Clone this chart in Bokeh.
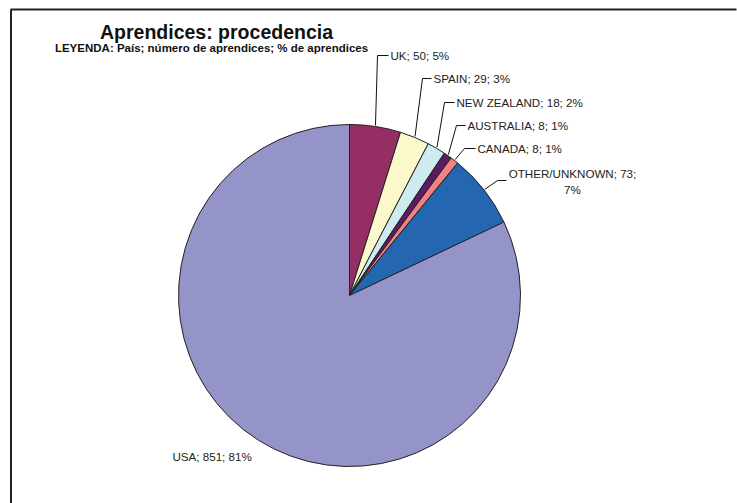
import math
from bokeh.plotting import figure
from bokeh.models import Range1d
from bokeh.core.properties import value
from bokeh.embed import file_html
from bokeh.resources import INLINE

# ---- data ----
countries = ["UK", "SPAIN", "NEW ZEALAND", "AUSTRALIA", "CANADA", "OTHER/UNKNOWN", "USA"]
counts = [50, 29, 18, 8, 8, 73, 851]
pct_labels = ["5%", "3%", "2%", "1%", "1%", "7%", "81%"]
colors = ["#952F63", "#FBF9CB", "#CDEBF0", "#5C1A5F", "#F28282", "#2566B1", "#9594C8"]

title_text = "Aprendices: procedencia"
subtitle_text = "LEYENDA: País; número de aprendices; % de aprendices"

# ---- layout (screen pixel positions of label anchors) ----
W, H = 737, 503
def fx(px):
    return px
def fy(py):
    return H - py

CX, CY, R = fx(349), fy(295), 171
label_layout = {
    "UK": dict(elbow=(377, 55), text=(390, 55)),
    "SPAIN": dict(elbow=(422, 78), text=(433, 78)),
    "NEW ZEALAND": dict(elbow=(444, 102), text=(456, 102)),
    "AUSTRALIA": dict(elbow=(456, 125), text=(467, 125)),
    "CANADA": dict(elbow=(464, 148), text=(477, 148)),
    "OTHER/UNKNOWN": dict(elbow=(497, 180), text=(508, 180), center=572, lines=(173, 189)),
    "USA": dict(elbow=None, text=(172, 456)),
}

p = figure(width=W, height=H, x_range=Range1d(0, W), y_range=Range1d(0, H),
           output_backend="svg", toolbar_location=None, min_border=0)
p.axis.visible = False
p.grid.visible = False
p.outline_line_color = None
p.background_fill_color = None
p.border_fill_color = None

# frame (cut off at right / bottom like the reference)
p.segment(x0=[fx(10.5), fx(10)], y0=[fy(H), fy(9)], x1=[fx(10.5), fx(W - 1)], y1=[fy(9), fy(9)],
          line_color="#222222", line_width=2)

total = sum(counts)
starts, ends, mids = [], [], []
cum = 0
for n in counts:
    a0 = math.pi / 2 - 2 * math.pi * cum / total
    cum += n
    a1 = math.pi / 2 - 2 * math.pi * cum / total
    starts.append(a0)
    ends.append(a1)
    mids.append((a0 + a1) / 2)

p.wedge(x=CX, y=CY, radius=R, start_angle=starts, end_angle=ends, direction="clock",
        fill_color=colors, line_color="#222222", line_width=1)

font = value("Liberation Sans")
LFS = "11.6px"
for c, n, pc, m in zip(countries, counts, pct_labels, mids):
    lay = label_layout[c]
    tx, ty = lay["text"]
    if lay["elbow"] is not None:
        ex, ey = lay["elbow"]
        ax = CX + (R + 1) * math.cos(m)
        ay = CY + (R + 1) * math.sin(m)
        p.line([ax, fx(ex), fx(tx - 2)], [ay, fy(ey), fy(ey)], line_color="#111111", line_width=1)
    if "lines" in lay:
        l1, l2 = lay["lines"]
        p.text(x=[fx(lay["center"])] * 2, y=[fy(l1), fy(l2)], text=[f"{c}; {n};", pc],
               text_font=font, text_font_size=LFS, text_align="center",
               text_baseline="middle", text_color="#222222")
    else:
        p.text(x=[fx(tx)], y=[fy(ty)], text=[f"{c}; {n}; {pc}"], text_font=font, text_font_size=LFS,
               text_align="left", text_baseline="middle", text_color="#222222")

p.text(x=[fx(216)], y=[fy(31)], text=[title_text], text_font=font, text_font_size="19.5px",
       text_font_style="bold", text_align="center", text_baseline="middle", text_color="#111111")
p.text(x=[fx(211)], y=[fy(47)], text=[subtitle_text], text_font=font, text_font_size="11.5px",
       text_font_style="bold", text_align="center", text_baseline="middle", text_color="#111111")

open("out.html", "w").write(file_html(p, INLINE))
